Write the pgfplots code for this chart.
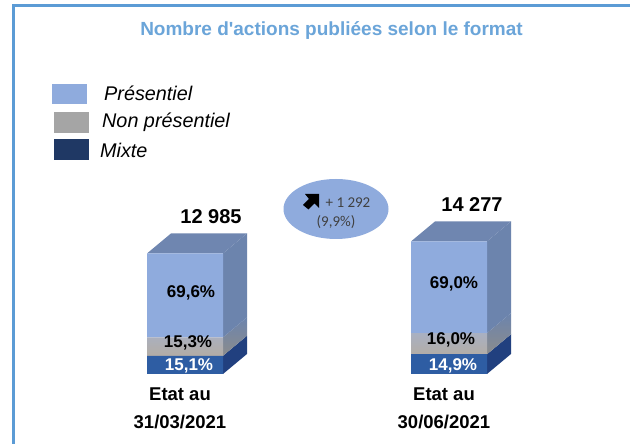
\documentclass[border=0pt]{standalone}
\usepackage{pgfplots}
\pgfplotsset{compat=1.18}
\usepackage{fontspec}
\setmainfont[Ligatures=TeXOff]{Liberation Sans}
\newfontfamily\carlito{Carlito}
\definecolor{pres}{HTML}{8FABDD}
\definecolor{presS}{HTML}{6C84AD}
\definecolor{presT}{HTML}{6F86B0}
\definecolor{nonF}{HTML}{B3ADA5}
\definecolor{nonTop}{HTML}{A9B0C2}
\definecolor{nonS}{HTML}{8B8C8C}
\definecolor{mixF}{HTML}{2E5DA3}
\definecolor{mixS}{HTML}{21407F}
\definecolor{legN}{HTML}{A5A5A5}
\definecolor{legM}{HTML}{1F3864}
\definecolor{frame}{HTML}{5B9BD5}
\pgfplotsset{base/.style={at={(0pt,0pt)},anchor=south west,width=630pt,height=444pt,scale only axis,hide axis,
  xmin=0,xmax=630,ymin=-7539,ymax=40280,clip=false}}
\begin{document}
\begin{tikzpicture}[x=1pt,y=1pt]
\path[fill=white,use as bounding box] (0,0) rectangle (630,444);
\begin{axis}[base]
% side and top faces
\addplot[fill=mixS,draw=none] coordinates {(223,0)(247,2154)(247,4115)(223,1961)} -- cycle;
\addplot[top color=presS,bottom color=nonS,draw=none] coordinates {(223,1961)(247,4115)(247,6102)(223,3948)} -- cycle;
\addplot[fill=presS,draw=none] coordinates {(223,3948)(247,6102)(247,15139)(223,12985)} -- cycle;
\addplot[fill=presT,draw=none] coordinates {(147,12985)(171,15139)(247,15139)(223,12985)} -- cycle;
\addplot[fill=mixS,draw=none] coordinates {(487,0)(511,2154)(511,4281)(487,2127)} -- cycle;
\addplot[top color=presS,bottom color=nonS,draw=none] coordinates {(487,2127)(511,4281)(511,6565)(487,4411)} -- cycle;
\addplot[fill=presS,draw=none] coordinates {(487,4411)(511,6565)(511,16431)(487,14277)} -- cycle;
\addplot[fill=presT,draw=none] coordinates {(411,14277)(435,16431)(511,16431)(487,14277)} -- cycle;
\end{axis}
\begin{axis}[base,ybar stacked,bar width=76]
\addplot[fill=mixF,draw=none] coordinates {(185,1961)(449,2127)};
\addplot[draw=none,top color=nonTop,bottom color=nonF] coordinates {(185,1987)(449,2284)};
\addplot[fill=pres,draw=none] coordinates {(185,9037)(449,9866)};
\end{axis}
% frame
\draw[frame,line width=3pt] (13.5,0) -- (13.5,438.5) -- (630,438.5);
\node[font=\bfseries\fontsize{19}{21}\selectfont,text=frame!90!white] at (331.5,413) {Nombre d'actions publiées selon le format};
% legend
\fill[pres] (52,340) rectangle (87,360);
\fill[legN] (54,311) rectangle (89,332);
\fill[legM] (54,284) rectangle (89,305);
\def\gf{\itshape\fontsize{19.8}{21}\selectfont}
\node[anchor=west,inner sep=0,font=\gf] at (104,351) {Présentiel};
\node[anchor=west,inner sep=0,font=\gf] at (102,321.5) {Non présentiel};
\node[anchor=west,inner sep=0,font=\gf] at (100,294) {Mixte};
% ellipse
\fill[pres] (336,235) ellipse [x radius=52.5,y radius=30];
\fill[black] (303,239) -- (309,245) -- (305,250) -- (319,250) -- (319,236) -- (314.5,240.5) -- (308.5,234.5) -- cycle;
\node[font=\carlito\fontsize{15}{17}\selectfont,text=black!75] at (348,241) {+ 1 292};
\node[font=\carlito\fontsize{15}{17}\selectfont,text=black!75] at (336,222) {(9,9\%)};
% totals
\node[font=\bfseries\fontsize{20}{22}\selectfont] at (211,227) {12 985};
\node[font=\bfseries\fontsize{20}{22}\selectfont] at (472,239) {14 277};
% percentages
\def\pf{\bfseries\fontsize{17}{19}\selectfont}
\node[font=\pf] at (191,151) {69,6\%};
\node[font=\pf] at (188,101) {15,3\%};
\node[font=\pf,text=white] at (189,78) {15,1\%};
\node[font=\pf] at (454,160) {69,0\%};
\node[font=\pf] at (451,104) {16,0\%};
\node[font=\pf,text=white] at (453,78) {14,9\%};
% labels
\def\lf{\bfseries\fontsize{18.5}{21}\selectfont}
\node[font=\lf] at (180,49.5) {Etat au};
\node[font=\lf] at (180,22) {31/03/2021};
\node[font=\lf] at (444,49.5) {Etat au};
\node[font=\lf] at (444,22) {30/06/2021};
\end{tikzpicture}
\end{document}
